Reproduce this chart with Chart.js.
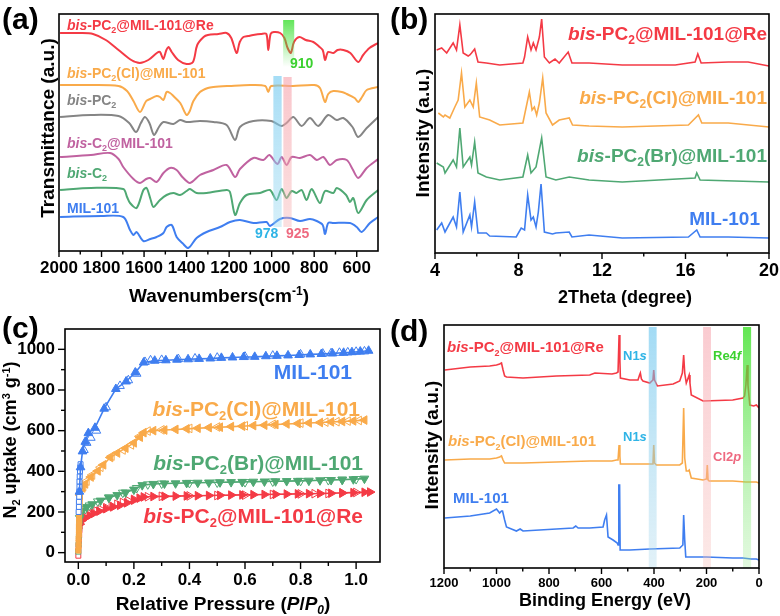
<!DOCTYPE html>
<html>
<head>
<meta charset="utf-8">
<script src="https://cdn.jsdelivr.net/npm/chart.js@4.4.1/dist/chart.umd.min.js"></script>
<style>
  body { margin: 0; background: #fff; }
  #wrap { position: relative; width: 780px; height: 616px; }
  canvas { position: absolute; }
</style>
</head>
<body>
<div id="wrap">
  <canvas id="pa" width="390" height="308" style="left:0;top:0"></canvas>
  <canvas id="pb" width="390" height="308" style="left:390px;top:0"></canvas>
  <canvas id="pc" width="390" height="308" style="left:0;top:308px"></canvas>
  <canvas id="pd" width="390" height="308" style="left:390px;top:308px"></canvas>
</div>
<script>
// ---- (a) FTIR, [wavenumber, transmittance a.u.] ----
const ftirRe = [[1995,218],[1900,218],[1840,217],[1780,211],[1720,201],[1660,191],[1620,188],[1580,191],[1540,198],[1525,199],[1510,192],[1495,201],[1485,204],[1470,199],[1440,191],[1400,187],[1370,189],[1350,206],[1320,214],[1300,216],[1250,217],[1212,218],[1190,213],[1165,198],[1150,209],[1133,214],[1110,215],[1087,216],[1050,217],[1025,217],[1016,201],[1005,217],[990,219],[960,218],[940,213],[925,203],[910,198],[895,209],[870,214],[840,211],[804,209],[780,205],[760,201],[749,191],[735,199],[710,198],[690,201],[663,201],[630,198],[593,189],[570,196],[540,203],[500,208]];
const ftirCl = [[1995,166],[1850,166],[1720,165],[1680,160],[1650,150],[1619,139],[1590,150],[1572,152],[1541,155],[1525,154],[1509,151],[1494,159],[1478,158],[1462,155],[1430,148],[1400,136],[1385,140],[1368,150],[1337,159],[1300,163],[1274,164],[1200,165],[1100,166],[1030,165],[1016,159],[1002,165],[900,165],[800,166],[773,163],[749,149],[734,157],[710,160],[670,159],[647,157],[610,153],[593,149],[575,154],[553,161],[499,164]];
const ftirPC2 = [[1995,134],[1850,136],[1720,135],[1670,128],[1638,119],[1615,128],[1596,134],[1575,128],[1553,116],[1530,124],[1509,129],[1462,127],[1431,131],[1400,129],[1337,130],[1274,129],[1212,126],[1172,111],[1149,124],[1086,130],[1002,130],[953,125],[930,128],[898,134],[859,125],[820,133],[781,125],[734,136],[694,131],[663,133],[620,124],[593,114],[553,123],[499,134]];
const ftirC2Mil = [[1995,94],[1850,96],[1760,98],[1720,92],[1698,84],[1650,72],[1619,68],[1590,72],[1572,73],[1541,69],[1509,78],[1478,83],[1447,81],[1420,74],[1384,68],[1337,76],[1274,81],[1212,86],[1172,74],[1149,82],[1086,93],[1039,91],[1011,96],[973,87],[953,94],[930,86],[906,94],[867,93],[820,96],[788,91],[757,94],[726,86],[694,91],[647,91],[620,82],[593,73],[553,83],[499,92]];
const ftirC2 = [[1995,61],[1850,63],[1698,62],[1680,54],[1666,48],[1635,43],[1603,61],[1588,63],[1570,52],[1556,44],[1525,51],[1494,56],[1462,58],[1431,56],[1400,60],[1384,62],[1353,58],[1306,58],[1212,61],[1196,59],[1172,36],[1149,48],[1118,56],[1055,58],[1008,61],[977,51],[953,62],[930,53],[906,60],[883,58],[859,61],[836,51],[812,62],[773,48],[749,60],[710,58],[694,63],[650,56],[632,49],[616,53],[593,38],[553,51],[499,61]];
const ftirMil = [[1995,34],[1800,35],[1698,34],[1666,21],[1650,16],[1635,19],[1603,10],[1570,12],[1541,14],[1509,18],[1494,24],[1470,26],[1447,14],[1420,8],[1392,3],[1353,13],[1306,19],[1243,24],[1196,29],[1149,31],[1086,28],[1024,29],[1008,25],[961,32],[914,33],[867,30],[820,32],[788,30],[760,26],[749,17],[734,28],[710,28],[632,28],[600,24],[577,19],[538,28],[499,34]];
const ftirBands = [[992,953],[945,906],[946,894]];   // 978, 925, 910
const A_XLABELS = [2000,1800,1600,1400,1200,1000,800,600];
const A_XMINOR = [1900,1700,1500,1300,1100,900,700];

// ---- (b) XRD, [2theta, intensity a.u.] ----
const xrdRe = [[4.08,203],[4.32,205],[4.56,200],[4.87,210],[5.03,203],[5.19,228],[5.35,200],[5.59,197],[5.67,198],[5.75,200],[5.90,204],[6.06,191],[6.46,190],[7.1,188],[8.21,190],[8.29,196],[8.44,216],[8.60,203],[8.71,210],[8.84,203],[9.0,216],[9.11,234],[9.24,196],[9.48,190],[9.75,194],[9.95,190],[10.38,201],[10.56,190],[11.38,190],[12.97,188],[15.51,188],[16.46,191],[16.59,199],[16.75,190],[18.05,191],[19.0,191],[20,187]];
const xrdCl = [[4.16,140],[4.40,136],[4.48,138],[4.71,135],[4.95,146],[5.11,153],[5.27,180],[5.43,146],[5.67,153],[5.83,146],[5.98,170],[6.14,136],[6.62,133],[7.1,128],[8.21,130],[8.52,161],[8.65,143],[8.76,146],[8.87,138],[9.0,150],[9.16,175],[9.32,140],[9.63,128],[9.95,133],[10.43,135],[10.59,128],[11.38,127],[12.97,126],[16.14,128],[16.62,138],[16.78,130],[18.05,130],[20,126]];
const xrdBr = [[4.08,90],[4.40,86],[4.48,80],[4.87,93],[5.03,86],[5.19,125],[5.35,86],[5.67,96],[5.75,88],[5.90,111],[6.06,80],[6.46,76],[7.1,73],[8.21,76],[8.44,98],[8.60,80],[8.84,86],[9.11,115],[9.32,76],[9.79,73],[10.43,76],[11.38,73],[12.97,71],[16.46,75],[16.54,80],[16.70,73],[20,71]];
const xrdMil = [[4.08,23],[4.32,30],[4.48,21],[4.87,36],[5.03,26],[5.19,61],[5.35,21],[5.67,38],[5.75,26],[5.90,51],[6.06,20],[6.46,20],[6.62,17],[7.89,16],[8.13,25],[8.29,23],[8.44,58],[8.60,33],[8.71,36],[8.84,26],[8.95,41],[9.08,69],[9.24,21],[9.63,19],[9.79,20],[10.43,21],[10.56,16],[11.38,18],[12.97,15],[16.14,16],[16.54,23],[16.70,16],[18.05,16],[20,15]];
const B_XLABELS = [4,8,12,16,20];
const B_XMINOR = [6,10,14,18];

// ---- (c) N2 isotherms, [P/P0, uptake] ----
const isoMilAds = [[0.004,300],[0.008,420],[0.015,498],[0.025,545],[0.036,588],[0.06,614],[0.093,708],[0.135,805],[0.172,842],[0.205,886],[0.235,935],[0.275,944],[0.315,946],[0.355,949],[0.395,951],[0.435,953],[0.475,955],[0.515,958],[0.555,960],[0.595,962],[0.635,963],[0.675,966],[0.715,968],[0.755,970],[0.795,972],[0.835,975],[0.875,977],[0.915,980],[0.955,983],[0.985,986],[1.015,989],[1.045,993]];
const isoMilDes = [[1.03,990],[1.0,988],[0.97,985],[0.94,983],[0.91,981],[0.88,979],[0.8,975],[0.7,969],[0.6,964],[0.5,959],[0.42,955],[0.36,952],[0.3,948],[0.26,946],[0.24,938],[0.21,880],[0.18,848],[0.15,820],[0.1,715],[0.065,600],[0.045,565],[0.03,540],[0.02,505]];
const isoMilLow = [[0.001,200],[0.002,225],[0.002,250],[0.003,275],[0.003,300],[0.004,325],[0.004,350],[0.005,375],[0.006,400],[0.007,420],[0.008,435]];
const isoClAds = [[0.006,284],[0.015,318],[0.025,338],[0.045,372],[0.07,402],[0.09,432],[0.115,468],[0.14,490],[0.17,514],[0.2,540],[0.222,568],[0.235,590],[0.27,600],[0.31,603],[0.35,606],[0.39,609],[0.43,612],[0.47,615],[0.51,617],[0.55,620],[0.59,622],[0.63,625],[0.67,627],[0.71,630],[0.75,633],[0.79,635],[0.83,638],[0.87,640],[0.91,643],[0.95,645],[0.99,648],[1.03,652]];
const isoClDes = [[1.01,650],[0.97,647],[0.93,644],[0.89,642],[0.8,637],[0.7,631],[0.6,624],[0.5,618],[0.4,611],[0.3,604],[0.25,598],[0.22,572],[0.19,530],[0.16,505],[0.12,475],[0.08,420],[0.05,382],[0.03,352],[0.018,325]];
const isoClLow = [[0.0,10],[0.001,30],[0.001,50],[0.001,70],[0.002,90],[0.002,110],[0.002,130],[0.003,150],[0.003,170],[0.003,190],[0.004,210],[0.004,230],[0.005,250],[0.005,270]];
const isoBrAds = [[0.005,170],[0.015,208],[0.03,224],[0.05,238],[0.08,256],[0.11,270],[0.14,283],[0.17,296],[0.2,310],[0.23,332],[0.27,338],[0.31,340],[0.35,341],[0.39,343],[0.43,344],[0.47,345],[0.51,346],[0.55,347],[0.59,348],[0.63,349],[0.67,350],[0.71,351],[0.75,352],[0.79,353],[0.83,354],[0.87,356],[0.91,357],[0.95,359],[0.99,361],[1.03,364]];
const isoBrDes = [[1.0,362],[0.95,359],[0.9,357],[0.8,353],[0.7,350],[0.6,347],[0.5,345],[0.4,343],[0.3,340],[0.25,336],[0.21,318],[0.16,295],[0.11,272],[0.07,252],[0.04,232],[0.025,215]];
const isoBrLow = [[0.0,5],[0.001,40],[0.002,80],[0.003,120],[0.004,150],[0.006,180]];
const isoReAds = [[0.005,140],[0.012,158],[0.024,170],[0.04,183],[0.054,192],[0.075,204],[0.1,216],[0.125,225],[0.15,233],[0.175,245],[0.2,258],[0.22,268],[0.235,274],[0.27,276],[0.31,277],[0.35,278],[0.39,279],[0.43,280],[0.47,281],[0.51,282],[0.55,283],[0.59,284],[0.63,285],[0.67,286],[0.71,287],[0.75,288],[0.79,289],[0.83,290],[0.87,291],[0.91,292],[0.95,294],[0.99,295],[1.03,297],[1.05,298]];
const isoReDes = [[1.0,296],[0.95,293],[0.9,291],[0.85,290],[0.8,289],[0.7,286],[0.6,283],[0.5,281],[0.4,279],[0.3,277],[0.25,275],[0.2,262],[0.18,255],[0.16,247],[0.14,238],[0.12,230],[0.1,221],[0.08,212],[0.065,205],[0.05,198],[0.04,192],[0.03,185],[0.02,176],[0.015,168]];
const isoReLow = [[0.0,-15],[0.0,10],[0.001,35],[0.002,60],[0.003,85],[0.004,110],[0.005,130]];
const C_XLABELS = [0,0.2,0.4,0.6,0.8,1.0];
const C_XMINOR = [0.1,0.3,0.5,0.7,0.9];
const C_YLABELS = [0,200,400,600,800,1000];
const C_YMINOR = [100,300,500,700,900];

// ---- (d) XPS survey, [binding energy, intensity a.u.] ----
const xpsRe = [[1197,198],[1100,201],[1026,202],[1000,203],[988,204],[981,205],[975,198],[969,192],[962,191],[899,190],[772,192],[645,193],[625,195],[560,194],[543,195],[537,196],[533,233],[530,208],[528,190],[492,188],[461,188],[455,193],[452,195],[448,189],[442,187],[416,185],[404,188],[401,198],[398,188],[387,182],[327,184],[302,187],[292,195],[287,213],[283,195],[277,185],[270,190],[266,193],[263,185],[258,173],[213,167],[100,168],[61,170],[55,172],[50,183],[45,203],[42,183],[35,163],[20,162],[10,163],[0,160]];
const xpsCl = [[1197,108],[1100,109],[1026,109],[1000,110],[988,111],[981,112],[975,108],[969,105],[962,105],[899,105],[772,106],[645,107],[560,107],[543,108],[537,108],[533,123],[530,112],[528,104],[492,104],[416,104],[404,104],[401,123],[398,105],[391,103],[327,103],[302,103],[292,105],[287,160],[283,110],[277,97],[270,97],[266,98],[262,94],[258,90],[213,88],[200,89],[197,103],[194,88],[190,87],[100,87],[50,86],[10,86],[0,85]];
const xpsMil = [[1197,50],[1100,52],[1026,55],[1000,59],[988,55],[981,57],[977,57],[969,48],[962,41],[924,37],[910,39],[899,37],[772,39],[708,40],[698,42],[689,40],[645,40],[594,41],[588,48],[581,53],[575,31],[556,28],[540,25],[537,23],[534,83],[531,83],[529,18],[492,18],[416,19],[302,20],[290,23],[287,53],[283,28],[279,11],[200,11],[100,10],[61,10],[30,9],[10,9],[0,8]];
const xpsBands = [[420,390],[213,183],[61,30]];   // N1s, Cl2p, Re4f
const D_XLABELS = [1200,1000,800,600,400,200,0];
const D_XMINOR = [1100,900,700,500,300,100];

const RED = '#f43a45', ORANGE = '#f9aa4a', GRAY = '#858585', PURPLE = '#c062a0', GREEN = '#4fa873', BLUE = '#3f7ef0';
const CYAN = '#2fb4e6', PINK = '#ee6a80', LIME = '#3bd12f';
const FONT = '"Liberation Sans", Arial, Helvetica, sans-serif';
const VERT = -Math.PI / 2;

Chart.defaults.font.family = FONT;

// *x* italic, _{x} subscript, _<x> italic subscript, ^{x} superscript
function parseRich(s) {
  const out = [];
  const re = /\*([^*]+)\*|_\{([^}]*)\}|_<([^>]*)>|\^\{([^}]*)\}|([^*_^]+)/g;
  let m;
  while ((m = re.exec(s))) {
    if (m[1] !== undefined) out.push({ t: m[1], it: true });
    else if (m[2] !== undefined) out.push({ t: m[2], sub: true });
    else if (m[3] !== undefined) out.push({ t: m[3], sub: true, it: true });
    else if (m[4] !== undefined) out.push({ t: m[4], sup: true });
    else out.push({ t: m[5] });
  }
  return out;
}

function drawRich(ctx, s, x, y, size, color, align, rot) {
  const parts = parseRich(s);
  const fontOf = p => (p.it ? 'italic ' : '') + 'bold ' + (p.sub || p.sup ? Math.round(size * 0.62) : size) + 'px ' + FONT;
  let w = 0;
  parts.forEach(p => { ctx.font = fontOf(p); p.w = ctx.measureText(p.t).width; w += p.w; });
  ctx.save();
  ctx.translate(x, y);
  if (rot) ctx.rotate(rot);
  let cx = align === 'right' ? -w : align === 'center' ? -w / 2 : 0;
  ctx.fillStyle = color;
  ctx.textBaseline = 'alphabetic';
  parts.forEach(p => {
    ctx.font = fontOf(p);
    const dy = p.sub ? size * 0.22 : p.sup ? -size * 0.38 : 0;
    ctx.fillText(p.t, cx, dy + size * 0.36);
    cx += p.w;
  });
  ctx.restore();
}

const DECOR = {
  pa: {
    bands: [
      { r: ftirBands[0], y: [24, 175], top: 'rgba(110,200,240,0.62)', bottom: 'rgba(150,215,240,0.4)' },
      { r: ftirBands[1], y: [24, 174], top: 'rgba(246,160,170,0.6)', bottom: 'rgba(246,175,175,0.4)' },
      { r: ftirBands[2], y: [184, 231], top: 'rgba(70,225,60,0.85)', bottom: 'rgba(70,225,60,0)' }
    ],
    ticks: [{ axis: 'x', values: A_XLABELS, len: 6 }, { axis: 'x', values: A_XMINOR, len: 3.5 }],
    texts: [
      ['(a)', 2, 18, 30, '#000'],
      ['*bis*-PC_{2}@MIL-101@Re', 67, 25, 14, RED],
      ['*bis*-PC_{2}(Cl)@MIL-101', 67, 73, 14, ORANGE],
      ['*bis*-PC_{2}', 67, 100, 14, GRAY],
      ['*bis*-C_{2}@MIL-101', 67, 143, 14, PURPLE],
      ['*bis*-C_{2}', 67, 173, 14, GREEN],
      ['MIL-101', 67, 208, 14, BLUE],
      ['910', 290, 63, 14, LIME],
      ['978', 255, 233, 14, CYAN],
      ['925', 286, 233, 14, PINK],
      ['Transmittance (a.u.)', 47, 128, 19, '#000', 'center', VERT],
      ['Wavenumbers(cm^{-1})', 219, 295, 19, '#000', 'center']
    ]
  },
  pb: {
    ticks: [{ axis: 'x', values: B_XLABELS, len: 6 }, { axis: 'x', values: B_XMINOR, len: 3.5 }],
    texts: [
      ['(b)', 0, 18, 30, '#000'],
      ['*bis*-PC_{2}@MIL-101@Re', 377, 33, 19, RED, 'right'],
      ['*bis*-PC_{2}(Cl)@MIL-101', 377, 97, 19, ORANGE, 'right'],
      ['*bis*-PC_{2}(Br)@MIL-101', 377, 155, 19, GREEN, 'right'],
      ['MIL-101', 370, 218, 19, BLUE, 'right'],
      ['Intensity (a.u.)', 32, 133, 19, '#000', 'center', VERT],
      ['2Theta (degree)', 235, 297, 18, '#000', 'center']
    ]
  },
  pc: {
    ticks: [
      { axis: 'x', values: C_XLABELS, len: 7 }, { axis: 'x', values: C_XMINOR, len: 4 },
      { axis: 'y', values: C_YLABELS, len: 7 }, { axis: 'y', values: C_YMINOR, len: 4 }
    ],
    texts: [
      ['(c)', 2, 19, 30, '#000'],
      ['MIL-101', 352, 63, 21, BLUE, 'right'],
      ['*bis*-PC_{2}(Cl)@MIL-101', 360, 100, 21, ORANGE, 'right'],
      ['*bis*-PC_{2}(Br)@MIL-101', 363, 154, 21, GREEN, 'right'],
      ['*bis*-PC_{2}@MIL-101@Re', 363, 207, 21, RED, 'right'],
      ['N_{2} uptake (cm^{3} g^{-1})', 10, 132, 18, '#000', 'center', VERT],
      ['Relative Pressure (*P*/*P*_<0>)', 223, 295, 19, '#000', 'center']
    ]
  },
  pd: {
    bands: [
      { r: xpsBands[0], y: [0, 241], top: 'rgba(100,195,238,0.6)', bottom: 'rgba(170,215,235,0.35)' },
      { r: xpsBands[1], y: [0, 241], top: 'rgba(246,160,170,0.55)', bottom: 'rgba(246,190,185,0.35)' },
      { r: xpsBands[2], y: [0, 241], top: 'rgba(60,225,40,0.8)', bottom: 'rgba(160,235,150,0.3)' }
    ],
    ticks: [{ axis: 'x', values: D_XLABELS, len: 6 }, { axis: 'x', values: D_XMINOR, len: 3.5 }],
    texts: [
      ['(d)', 0, 22, 30, '#000'],
      ['*bis*-PC_{2}@MIL-101@Re', 57, 39, 15, RED],
      ['N1*s*', 233, 47, 13, CYAN],
      ['Re4*f*', 323, 47, 13, LIME],
      ['*bis*-PC_{2}(Cl)@MIL-101', 58, 133, 15, ORANGE],
      ['N1*s*', 233, 128, 13, CYAN],
      ['Cl2*p*', 323, 148, 13, PINK],
      ['MIL-101', 63, 190, 15, BLUE],
      ['Intensity (a.u.)', 41, 137, 19, '#000', 'center', VERT],
      ['Binding Energy (eV)', 215, 292, 18, '#000', 'center']
    ]
  }
};

const decor = {
  id: 'decor',
  afterDraw(chart) {
    const d = DECOR[chart.canvas.id];
    const ctx = chart.ctx, a = chart.chartArea, xs = chart.scales.x, ys = chart.scales.y;
    ctx.save();
    (d.bands || []).forEach(b => {
      const x0 = xs.getPixelForValue(b.r[0]), x1 = xs.getPixelForValue(b.r[1]);
      const yTop = ys.getPixelForValue(b.y[1]), yBot = ys.getPixelForValue(b.y[0]);
      const g = ctx.createLinearGradient(0, yTop, 0, yBot);
      g.addColorStop(0, b.top);
      g.addColorStop(1, b.bottom);
      ctx.fillStyle = g;
      ctx.fillRect(Math.min(x0, x1), yTop, Math.abs(x1 - x0), yBot - yTop);
    });
    ctx.strokeStyle = '#000';
    ctx.lineWidth = 1.6;
    ctx.strokeRect(a.left, a.top, a.right - a.left, a.bottom - a.top);
    ctx.lineWidth = 1.4;
    (d.ticks || []).forEach(t => {
      const sc = chart.scales[t.axis];
      t.values.forEach(v => {
        const p = sc.getPixelForValue(v);
        ctx.beginPath();
        if (t.axis === 'x') { ctx.moveTo(p, a.bottom); ctx.lineTo(p, a.bottom + t.len); }
        else { ctx.moveTo(a.left, p); ctx.lineTo(a.left - t.len, p); }
        ctx.stroke();
      });
    });
    d.texts.forEach(t => drawRich(ctx, t[0], t[1], t[2], t[3], t[4], t[5] || 'left', t[6] || 0));
    ctx.restore();
  }
};

function xAxis(min, max, labels, height, size, pad, fmt, reverse) {
  return {
    type: 'linear', min, max, reverse: !!reverse,
    afterBuildTicks: s => { s.ticks = labels.map(v => ({ value: v })); },
    afterFit: s => { s.height = height; },
    grid: { display: false, drawTicks: true, tickLength: 6 },
    border: { display: false },
    ticks: { autoSkip: false, maxRotation: 0, padding: pad, color: '#000', font: { size, weight: 'bold' }, callback: fmt }
  };
}

function hiddenY(min, max) {
  return { type: 'linear', min, max, display: false };
}

function line(pairs, color, width, tension) {
  return {
    data: pairs.map(p => ({ x: p[0], y: p[1] })),
    borderColor: color, borderWidth: width, pointRadius: 0, tension: tension, fill: false
  };
}

function baseOptions(padding, scales) {
  return {
    responsive: false, animation: false, devicePixelRatio: 1,
    layout: { padding },
    plugins: { legend: { display: false }, tooltip: { enabled: false } },
    scales
  };
}

// (a)
new Chart(document.getElementById('pa'), {
  type: 'line',
  data: { datasets: [
    line(ftirRe, RED, 2, 0.3), line(ftirCl, ORANGE, 2, 0.3), line(ftirPC2, GRAY, 2, 0.3),
    line(ftirC2Mil, PURPLE, 2, 0.3), line(ftirC2, GREEN, 2, 0.3), line(ftirMil, BLUE, 2, 0.3)
  ] },
  options: baseOptions({ left: 59, top: 14, right: 12, bottom: 0 }, {
    x: xAxis(500, 2000, A_XLABELS, 57, 17, 1, v => String(v), true),
    y: hiddenY(0, 237)
  }),
  plugins: [decor]
});

// (b)
new Chart(document.getElementById('pb'), {
  type: 'line',
  data: { datasets: [
    line(xrdRe, RED, 1.6, 0), line(xrdCl, ORANGE, 1.6, 0), line(xrdBr, GREEN, 1.6, 0), line(xrdMil, BLUE, 1.6, 0)
  ] },
  options: baseOptions({ left: 45, top: 14, right: 9, bottom: 0 }, {
    x: xAxis(4, 20, B_XLABELS, 55, 18, 1, v => String(v)),
    y: hiddenY(0, 239)
  }),
  plugins: [decor]
});

// (c)
function iso(pairs, color, rot, open, withLine, style, radius) {
  return {
    data: pairs.map(p => ({ x: p[0], y: p[1] })),
    showLine: withLine, borderColor: color, borderWidth: withLine ? 1.6 : 1,
    pointStyle: style, pointRotation: rot, pointRadius: radius,
    pointBackgroundColor: open ? '#fff' : color, pointBorderColor: color, pointBorderWidth: 1,
    tension: 0, fill: false
  };
}
new Chart(document.getElementById('pc'), {
  type: 'line',
  data: { datasets: [
    iso(isoMilAds, BLUE, 0, false, true, 'triangle', 5),
    iso(isoMilDes, BLUE, 0, true, false, 'triangle', 5),
    iso(isoMilLow, BLUE, 0, true, false, 'rect', 3.5),
    iso(isoClAds, ORANGE, 270, false, true, 'triangle', 5),
    iso(isoClDes, ORANGE, 270, true, false, 'triangle', 5),
    iso(isoClLow, ORANGE, 0, false, false, 'rect', 3.5),
    iso(isoBrAds, GREEN, 180, false, true, 'triangle', 5),
    iso(isoBrDes, GREEN, 180, true, false, 'triangle', 5),
    iso(isoBrLow, GREEN, 0, true, false, 'rect', 3.5),
    iso(isoReAds, RED, 90, false, true, 'triangle', 5),
    iso(isoReDes, RED, 90, true, false, 'triangle', 5),
    iso(isoReLow, RED, 0, true, false, 'rect', 3.5)
  ] },
  options: baseOptions({ left: 0, top: 21, right: 10, bottom: 0 }, {
    x: xAxis(-0.048, 1.086, C_XLABELS, 54, 17, 2, v => v.toFixed(1)),
    y: {
      type: 'linear', min: -46, max: 1100,
      afterBuildTicks: s => { s.ticks = C_YLABELS.map(v => ({ value: v })); },
      afterFit: s => { s.width = 65; },
      grid: { display: false, drawTicks: true, tickLength: 6 },
      border: { display: false },
      ticks: { autoSkip: false, padding: 4, color: '#000', font: { size: 17, weight: 'bold' }, callback: v => String(v) }
    }
  }),
  plugins: [decor]
});

// (d)
new Chart(document.getElementById('pd'), {
  type: 'line',
  data: { datasets: [
    line(xpsRe, RED, 1.6, 0), line(xpsCl, ORANGE, 1.6, 0), line(xpsMil, BLUE, 1.6, 0)
  ] },
  options: baseOptions({ left: 54, top: 17, right: 21, bottom: 0 }, {
    x: xAxis(0, 1200, D_XLABELS, 48, 13, 2, v => String(v), true),
    y: hiddenY(0, 243)
  }),
  plugins: [decor]
});
</script>
</body>
</html>
